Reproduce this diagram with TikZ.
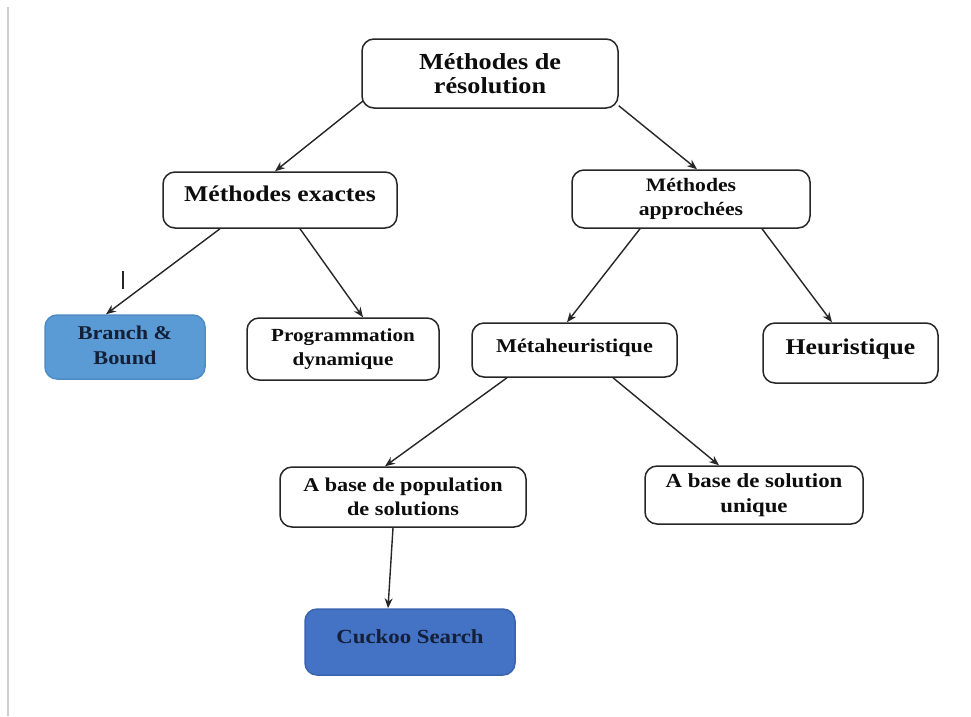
\documentclass[tikz,border=0pt]{standalone}
\usepackage{fontspec}
\usetikzlibrary{arrows.meta}
\newfontfamily\diagfont[FakeStretch=1.14]{Liberation Serif}

\definecolor{edgegray}{HTML}{262626}
\definecolor{lightblue}{HTML}{5B9BD5}
\definecolor{lightblueedge}{HTML}{4F8CC6}
\definecolor{deepblue}{HTML}{4472C4}
\definecolor{deepblueedge}{HTML}{3B64B0}
\definecolor{navytext}{HTML}{141F38}
\definecolor{pagerule}{HTML}{CFCFCF}

\tikzset{
  box/.style={draw=edgegray, line width=1.5pt, rounded corners=12pt, fill=white,
    align=center, inner sep=2pt, text=black!95,
    font=\diagfont\bfseries},
  bluebox/.style={box, fill=lightblue, draw=lightblueedge, text=navytext},
  darkbox/.style={box, fill=deepblue, draw=deepblueedge, text=navytext},
  link/.style={draw=edgegray, line width=1.4pt, -{Stealth[length=10pt,width=8pt]}},
  fs/.style={font=\diagfont\bfseries\fontsize{#1pt}{\dimexpr#1pt*126/100\relax}\selectfont}
}

\begin{document}
\begin{tikzpicture}[x=1pt, y=-1pt]
  \useasboundingbox (0,0) rectangle (971,716);
  \fill[white] (0,0) rectangle (971,716);
  % page margin rule on the left
  \draw[pagerule, line width=1.5pt] (8,7) -- (8,716);

  % boxes
  \node[box, fs=23, minimum width=256pt, minimum height=69pt] (top) at (490,73.5)
    {Méthodes de\\[-5pt]résolution};
  \node[box, fs=22.5, minimum width=234pt, minimum height=56pt, text depth=12pt] (exactes) at (280,200)
    {Méthodes exactes};
  \node[box, fs=19, minimum width=238pt, minimum height=58pt] (approx) at (691,199)
    {Méthodes\\approchées};
  \node[bluebox, fs=19.5, minimum width=160pt, minimum height=64pt, text depth=4pt] (bb) at (125,347)
    {Branch \&\\Bound};
  \node[box, fs=18.5, minimum width=192pt, minimum height=62pt] (prog) at (343,349)
    {Programmation\\dynamique};
  \node[box, fs=19.5, minimum width=205pt, minimum height=54pt, text depth=8pt] (meta) at (574.5,350)
    {Métaheuristique};
  \node[box, fs=22.5, minimum width=175pt, minimum height=60pt, text depth=12pt] (heur) at (850.5,353)
    {Heuristique};
  \node[box, fs=19.5, minimum width=246pt, minimum height=60pt] (pop) at (403,497)
    {A base de population\\de solutions};
  \node[box, fs=20, minimum width=218pt, minimum height=58pt] (unique) at (754,495)
    {A base de solution\\unique};
  \node[darkbox, fs=20, minimum width=210pt, minimum height=66pt, text depth=10pt] (cuckoo) at (410,642)
    {Cuckoo Search};

  % connectors
  \draw[link] ([shift={(2,-8)}]top.south west) -- ([shift={(-5,0)}]exactes.north);
  \draw[link] ([shift={(0,-3)}]top.south east) -- ([shift={(6,0)}]approx.north);
  \draw[link] ([shift={(-60,0)}]exactes.south) -- ([shift={(-19,0)}]bb.north);
  \draw[link] ([shift={(20,0)}]exactes.south) -- ([shift={(20,0)}]prog.north);
  \draw[link] ([shift={(-51,0)}]approx.south) -- ([shift={(-7.5,0)}]meta.north);
  \draw[link] ([shift={(71,0)}]approx.south) -- ([shift={(-18.5,0)}]heur.north);
  \draw[link] ([shift={(-67.5,0)}]meta.south) -- ([shift={(-18,0)}]pop.north);
  \draw[link] ([shift={(38.5,0)}]meta.south) -- ([shift={(-35,0)}]unique.north);
  \draw[link] ([shift={(-10,0)}]pop.south) -- ([shift={(-22,0)}]cuckoo.north);

  % short vertical stroke left of the Branch & Bound connector
  \draw[edgegray, line width=1.5pt] (123,271) -- (123,289);
\end{tikzpicture}
\end{document}
